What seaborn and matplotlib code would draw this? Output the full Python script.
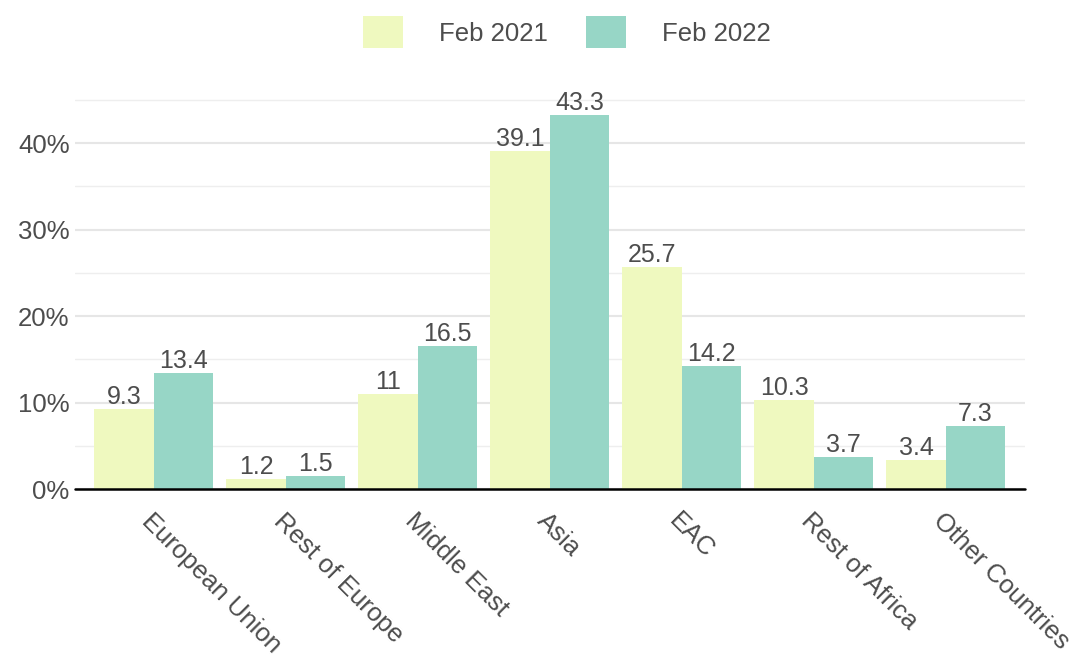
import matplotlib
matplotlib.use('Agg')
import matplotlib.pyplot as plt
import seaborn as sns
import pandas as pd
from matplotlib.ticker import MultipleLocator, FuncFormatter

regions = ['European Union', 'Rest of Europe', 'Middle East', 'Asia', 'EAC',
           'Rest of Africa', 'Other Countries']
feb_2021 = [9.3, 1.2, 11, 39.1, 25.7, 10.3, 3.4]
feb_2022 = [13.4, 1.5, 16.5, 43.3, 14.2, 3.7, 7.3]
periods = ['Feb 2021', 'Feb 2022']
colors = ['#eff9bf', '#97d6c6']

df = pd.DataFrame({
    'region': regions * 2,
    'share': feb_2021 + feb_2022,
    'period': [periods[0]] * len(regions) + [periods[1]] * len(regions),
})

sns.set_style('white')
plt.rcParams['font.family'] = ['Liberation Sans', 'DejaVu Sans']

fig, ax = plt.subplots(figsize=(10.8, 6.61), dpi=100)
fig.subplots_adjust(left=0.069, right=0.949, top=0.862, bottom=0.26)

sns.barplot(data=df, x='region', y='share', hue='period', order=regions,
            hue_order=periods, palette=colors, width=0.9, saturation=1,
            linewidth=0, ax=ax, legend=True)

for cont in ax.containers:
    labels = ['{:g}'.format(v) for v in cont.datavalues]
    ax.bar_label(cont, labels=labels, fontsize=18, color='#4d4d4d', padding=0)

ax.set_xlim(-0.6, 6.6)
ax.set_ylim(0, 46)
ax.yaxis.set_major_locator(MultipleLocator(10))
ax.yaxis.set_minor_locator(MultipleLocator(5))
ax.yaxis.set_major_formatter(FuncFormatter(lambda v, p: '{:.0f}%'.format(v)))
ax.grid(axis='y', which='major', color='#e6e6e6', linewidth=1.5)
ax.grid(axis='y', which='minor', color='#eeeeee', linewidth=1)
ax.set_axisbelow(True)
ax.axhline(0, color='black', linewidth=1.8, zorder=5, clip_on=False)
for s in ax.spines.values():
    s.set_visible(False)

ax.set_xlabel('')
ax.set_ylabel('')
ax.tick_params(axis='both', which='both', length=0, labelsize=18.5, colors='#4d4d4d')
ax.tick_params(axis='x', pad=14)
for lab in ax.get_xticklabels():
    lab.set_rotation(-45)
    lab.set_ha('left')
    lab.set_va('top')
    lab.set_rotation_mode('anchor')

ax.legend(loc='center', bbox_to_anchor=(0.518, 1.148), ncol=2, frameon=False,
          fontsize=18.5, handlelength=1.55, handleheight=1.55, handletextpad=1.4,
          columnspacing=1.5, labelcolor='#4d4d4d')

fig.savefig('out.png', dpi=100)
